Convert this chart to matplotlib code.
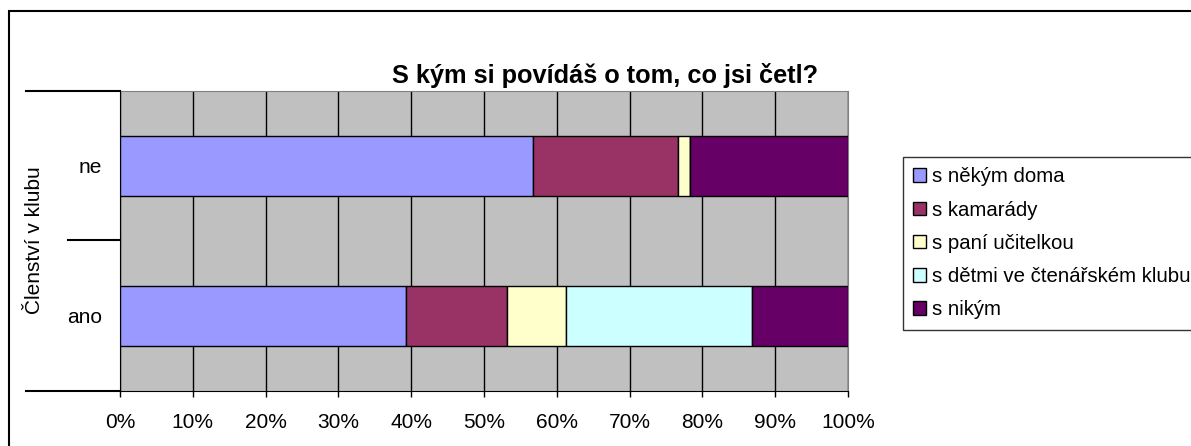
import matplotlib
matplotlib.use("Agg")
import matplotlib.pyplot as plt
from matplotlib.patches import Rectangle
from matplotlib.lines import Line2D
import numpy as np

plt.rcParams["font.family"] = ["Liberation Sans", "DejaVu Sans"]

# data
categories = ["ano", "ne"]
series_names = ["s někým doma", "s kamarády", "s paní učitelkou",
                "s dětmi ve čtenářském klubu", "s nikým"]
doma = [39.3, 56.7]
kamaradi = [13.9, 20.0]
ucitelka = [8.0, 1.6]
deti = [25.6, 0.0]
nikym = [13.2, 21.7]
colors = ["#9999FF", "#993366", "#FFFFCC", "#CCFFFF", "#660066"]
xticks = np.arange(0, 101, 10)
xtick_labels = [f"{v}%" for v in xticks]

W, H = 1191, 446
fig = plt.figure(figsize=(W / 100, H / 100), dpi=100)
ax = fig.add_axes([120 / W, 1 - 391 / H, 728 / W, 300.5 / H])
ax.set_facecolor("#C0C0C0")

y = np.arange(len(categories))
left = np.zeros(len(categories))
for name, vals, c in zip(series_names, [doma, kamaradi, ucitelka, deti, nikym], colors):
    ax.barh(y, vals, left=left, height=0.4, color=c, edgecolor="black",
            linewidth=1, label=name, zorder=3)
    left += np.array(vals)

ax.set_xlim(0, 100)
ax.set_ylim(-0.5, 1.5)
ax.set_xticks(xticks)
ax.set_xticklabels(xtick_labels, fontsize=15)
ax.xaxis.grid(True, color="black", linewidth=1, zorder=1)
ax.set_axisbelow(True)
ax.tick_params(axis="x", direction="out", length=4.5, width=1, pad=11)
ax.set_yticks(y)
ax.set_yticklabels(categories, fontsize=15)
ax.tick_params(axis="y", length=0, pad=13)
for s in ["top", "right"]:
    ax.spines[s].set_color("#808080")
ax.spines["left"].set_color("black")
ax.spines["bottom"].set_color("black")

fig.text(35 / W, 1 - 240 / H, "Členství v klubu", fontsize=15,
         rotation=90, ha="center", va="center")

# category axis separators
for yy, x0 in [(90.5, 26), (240, 68), (391, 26)]:
    fig.add_artist(Line2D([x0 / W, 120 / W], [1 - yy / H, 1 - yy / H],
                          color="black", linewidth=1.5, transform=fig.transFigure))

fig.text(605 / W, 1 - 76 / H, "S kým si povídáš o tom, co jsi četl?",
         fontsize=18.3, fontweight="bold", ha="center", va="center")

leg = fig.legend(loc="upper left", bbox_to_anchor=(903 / W, 1 - 157 / H),
                 fontsize=14.7, frameon=True, fancybox=False, edgecolor="black",
                 handlelength=0.65, handleheight=0.65, handletextpad=0.25,
                 labelspacing=0.7, borderpad=0.5, borderaxespad=0)
leg.get_frame().set_linewidth(1)

# outer chart border
fig.add_artist(Rectangle((8.5 / W, -0.1), 1.2, 1.1 - 11 / H, fill=False,
                         edgecolor="black", linewidth=1.5,
                         transform=fig.transFigure))

fig.savefig("out.png", dpi=100, facecolor="white")
